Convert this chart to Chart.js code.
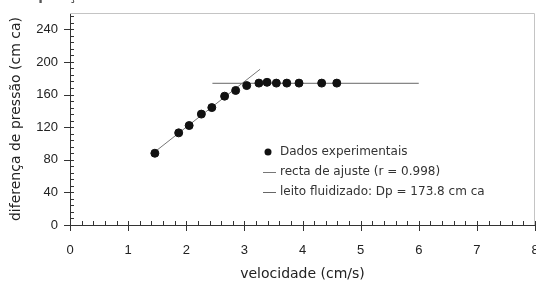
<!DOCTYPE html>
<html>
<head>
<meta charset="utf-8">
<script src="https://cdn.jsdelivr.net/npm/chart.js@4"></script>
<style>
  body { margin: 0; background: #fff; overflow: hidden; }
  .wrap { width: 540px; height: 283px; position: relative; }
</style>
</head>
<body>
<div class="wrap"><canvas class="js-chart"></canvas></div>
<script>
const ctx = document.querySelector('.js-chart').getContext('2d');

// pontos experimentais (velocidade cm/s, diferença de pressão cm ca)
const velocidade = [1.46, 1.87, 2.05, 2.26, 2.44, 2.66, 2.85, 3.04, 3.25, 3.39, 3.55, 3.73, 3.94, 4.33, 4.59];
const pressao = [88, 113, 122, 136, 144, 158, 165, 171, 174, 175, 174, 174, 174, 174, 174];

// recta de ajuste e patamar do leito fluidizado
const ajusteX = [1.5, 3.27];
const ajusteY = [92, 191];
const leitoX = [2.45, 6.0];
const leitoY = [173.8, 173.8];

const labels = ['Dados experimentais', 'recta de ajuste (r = 0.998)', 'leito fluidizado: Dp = 173.8 cm ca'];
const titulo = 'da aquisição de dados através do sistema';

const X_MIN = 0, X_MAX = 8, Y_MIN = 0, Y_MAX = 260;

function toPoints(xs, ys) {
    return xs.map((x, i) => ({ x: x, y: ys[i] }));
}

// tick marks (major cross the axis, minor inside), frame, legend and cut title
const extras = {
    id: 'extras',
    afterDraw(chart) {
        const c = chart.ctx;
        const area = chart.chartArea;
        const xs = chart.scales.x;
        const ys = chart.scales.y;
        c.save();

        // light frame top / right
        c.strokeStyle = '#c4c4c4';
        c.lineWidth = 1;
        c.beginPath();
        c.moveTo(area.left, area.top + 0.5);
        c.lineTo(area.right - 0.5, area.top + 0.5);
        c.lineTo(area.right - 0.5, area.bottom);
        c.stroke();

        c.strokeStyle = '#333';
        c.beginPath();
        for (let i = 0; i <= 40; i++) {
            const v = i * 0.2;
            const px = Math.round(xs.getPixelForValue(v)) + 0.5;
            const major = i % 5 === 0;
            c.moveTo(px, area.bottom - 4);
            c.lineTo(px, area.bottom + (major ? 6 : 0));
        }
        for (let v = 0; v <= 256; v += 8) {
            const py = Math.round(ys.getPixelForValue(v)) + 0.5;
            const major = v % 40 === 0;
            c.moveTo(area.left - (major ? 6 : 0), py);
            c.lineTo(area.left + 4, py);
        }
        c.stroke();

        // legend inside plot
        c.font = '12px "DejaVu Sans"';
        c.textBaseline = 'middle';
        const rows = [152, 172, 192];
        chart.data.datasets.forEach((ds, i) => {
            const y = rows[i];
            if (i === 0) {
                c.fillStyle = '#111';
                c.beginPath();
                c.arc(268, y, 3.5, 0, Math.PI * 2);
                c.fill();
            } else {
                c.strokeStyle = ds.borderColor;
                c.beginPath();
                c.moveTo(263, y + 0.5);
                c.lineTo(276, y + 0.5);
                c.stroke();
            }
            c.fillStyle = '#333';
            c.fillText(ds.label, 280, y);
        });

        // title of the figure, cut by the top edge
        c.font = 'bold 13px "DejaVu Sans"';
        c.textBaseline = 'alphabetic';
        c.fillStyle = '#555';
        c.fillText(titulo, 2, 0);
        c.restore();
    }
};

new Chart(ctx, {
    type: 'scatter',
    data: {
        datasets: [{
            label: labels[0],
            data: toPoints(velocidade, pressao),
            backgroundColor: '#111',
            borderColor: '#111',
            pointRadius: 4,
            pointHoverRadius: 4,
            order: 0,
        },
        {
            label: labels[1],
            data: toPoints(ajusteX, ajusteY),
            showLine: true,
            borderColor: '#777',
            borderWidth: 1,
            pointRadius: 0,
            order: 1,
        },
        {
            label: labels[2],
            data: toPoints(leitoX, leitoY),
            showLine: true,
            borderColor: '#666',
            borderWidth: 1,
            pointRadius: 0,
            order: 2,
        }]
    },
    options: {
        responsive: true,
        maintainAspectRatio: false,
        animation: false,
        layout: { padding: { top: 13, right: 0, left: 0, bottom: 0 } },
        plugins: {
            legend: { display: false },
            tooltip: { enabled: false },
        },
        scales: {
            x: {
                type: 'linear',
                min: X_MIN,
                max: X_MAX,
                grid: { display: false, drawTicks: false },
                border: { display: true, color: '#333', width: 1 },
                ticks: {
                    stepSize: 1,
                    padding: 18,
                    color: '#222',
                    font: { family: '"Liberation Sans"', size: 13 },
                },
                title: {
                    display: true,
                    text: 'velocidade (cm/s)',
                    color: '#222',
                    font: { family: '"DejaVu Sans"', size: 14 },
                    padding: { top: 1, bottom: 0 },
                },
                afterFit(scale) {
                    scale.height = 58;
                    scale.paddingLeft = 0;
                    scale.paddingRight = 0;
                },
            },
            y: {
                min: Y_MIN,
                max: Y_MAX,
                grid: { display: false, drawTicks: false },
                border: { display: true, color: '#333', width: 1 },
                ticks: {
                    stepSize: 40,
                    includeBounds: false,
                    padding: 12,
                    color: '#222',
                    font: { family: '"Liberation Sans"', size: 13 },
                },
                title: {
                    display: true,
                    text: 'diferença de pressão (cm ca)',
                    color: '#222',
                    font: { family: '"DejaVu Sans"', size: 14 },
                    padding: { top: 8, bottom: 0 },
                },
                afterFit(scale) {
                    scale.width = 70;
                    scale.paddingTop = 0;
                    scale.paddingBottom = 0;
                },
            }
        }
    },
    plugins: [extras]
});
</script>
</body>
</html>
